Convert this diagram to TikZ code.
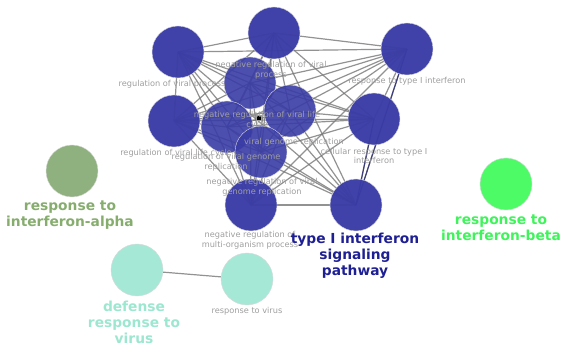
\documentclass[tikz,border=0pt]{standalone}
\usepackage{fontspec}
\setmainfont{DejaVu Sans}
\definecolor{nblue}{HTML}{3A3CA6}
\definecolor{lblue}{HTML}{1E1F92}
\definecolor{falpha}{HTML}{8FB07F}
\definecolor{talpha}{HTML}{86AD6E}
\definecolor{fbeta}{HTML}{4CFB66}
\definecolor{tbeta}{HTML}{3EF45A}
\definecolor{fteal}{HTML}{A6E8D6}
\definecolor{tteal}{HTML}{9DE6D0}
\definecolor{lgray}{HTML}{9E9E9E}
\definecolor{egray}{HTML}{777777}
\tikzset{
  term/.style={circle, minimum size=52pt, inner sep=0pt, draw=white!85!black, line width=0.4pt},
  bnode/.style={term, fill=nblue, fill opacity=0.97},
  small/.style={text=lgray, font=\fontsize{8.2}{9.8}\selectfont, align=center, inner sep=0pt},
  big/.style={font=\fontsize{13.8}{16}\selectfont\bfseries, align=center, inner sep=0pt},
  edge/.style={draw=egray, line width=1.2pt, opacity=0.8},
}
\begin{document}
\begin{tikzpicture}[x=1pt,y=-1pt]
\useasboundingbox (0,0) rectangle (564,347);
% blue cluster node positions
\coordinate (pA) at (178,52);
\coordinate (pB) at (274,33);
\coordinate (pD) at (407,49);
\coordinate (pE) at (174,121);
\coordinate (pC) at (250,83);
\coordinate (pF) at (290,111);
\coordinate (pG) at (227,127);
\coordinate (pH) at (261,152);
\coordinate (pI) at (374,119);
\coordinate (pJ) at (251,205);
\coordinate (pK) at (356,205);
% edges
\foreach \a/\b in {A/B,A/D,A/E,A/C,A/F,A/G,A/H,A/I,A/J,A/K,
  B/D,B/E,B/C,B/F,B/G,B/H,B/I,B/J,B/K,
  D/E,D/C,D/F,D/G,D/H,D/I,D/J,D/K,
  E/C,E/F,E/G,E/H,E/I,E/J,E/K,
  C/F,C/G,C/H,C/I,C/J,C/K,
  F/G,F/H,F/I,F/J,F/K,
  G/H,G/I,G/J,G/K,
  H/I,H/J,H/K,
  I/J,I/K,J/K}
  \draw[edge] (p\a) -- (p\b);
\draw[edge, draw=nblue!70!black, opacity=0.8] (pD) -- (pK);
\draw[edge, draw=nblue!70!black, opacity=0.8] (pI) -- (pK);
% nodes
\node[bnode] (A) at (pA) {};
\node[bnode] (B) at (pB) {};
\node[bnode] (D) at (pD) {};
\node[bnode] (E) at (pE) {};
\node[bnode] (I) at (pI) {};
\node[bnode] (J) at (pJ) {};
\node[bnode] (K) at (pK) {};
\node[bnode, fill opacity=0.9] (C) at (pC) {};
\node[bnode, fill opacity=0.9] (F) at (pF) {};
\node[bnode, fill opacity=0.9] (G) at (pG) {};
\node[bnode, fill opacity=0.9] (H) at (pH) {};
\node[draw=lgray, fill=black, minimum size=5pt, inner sep=0pt, line width=1pt] (X) at (259,118) {};
% other nodes
\node[term, fill=falpha] (L) at (72,171) {};
\node[term, fill=fbeta] (M) at (506,184) {};
\node[term, fill=fteal] (N) at (137,270) {};
\node[term, fill=fteal] (O) at (247,279) {};
\draw[edge] (N) -- (O);
% small labels
\node[small] (Al) at (172,84) {regulation of viral process};
\node[small] (Bl) at (271,70) {negative regulation of viral\\process};
\node[small] (Dl) at (407,81) {response to type I interferon};
\node[small] (El) at (176,153) {regulation of viral life cycle};
\node[small] (Cl) at (257,120) {negative regulation of viral life\\cycle};
\node[small] (Fl) at (294,142) {viral genome replication};
\node[small] (Gl) at (226,162) {regulation of viral genome\\replication};
\node[small] (Hl) at (262,187) {negative regulation of viral\\genome replication};
\node[small] (Il) at (374,156) {cellular response to type I\\interferon};
\node[small] (Jl) at (250,240) {negative regulation of\\multi-organism process};
\node[small] (Ol) at (247,311) {response to virus};
% big labels
\node[big, text=lblue] (Kl) at (355,256) {type I interferon\\signaling\\pathway};
\node[big, text=talpha] (Ll) at (70,215) {response to\\interferon-alpha};
\node[big, text=tbeta] (Ml) at (501,228) {response to\\interferon-beta};
\node[big, text=tteal] (Nl) at (134,322) {defense\\response to\\virus};
\end{tikzpicture}
\end{document}
